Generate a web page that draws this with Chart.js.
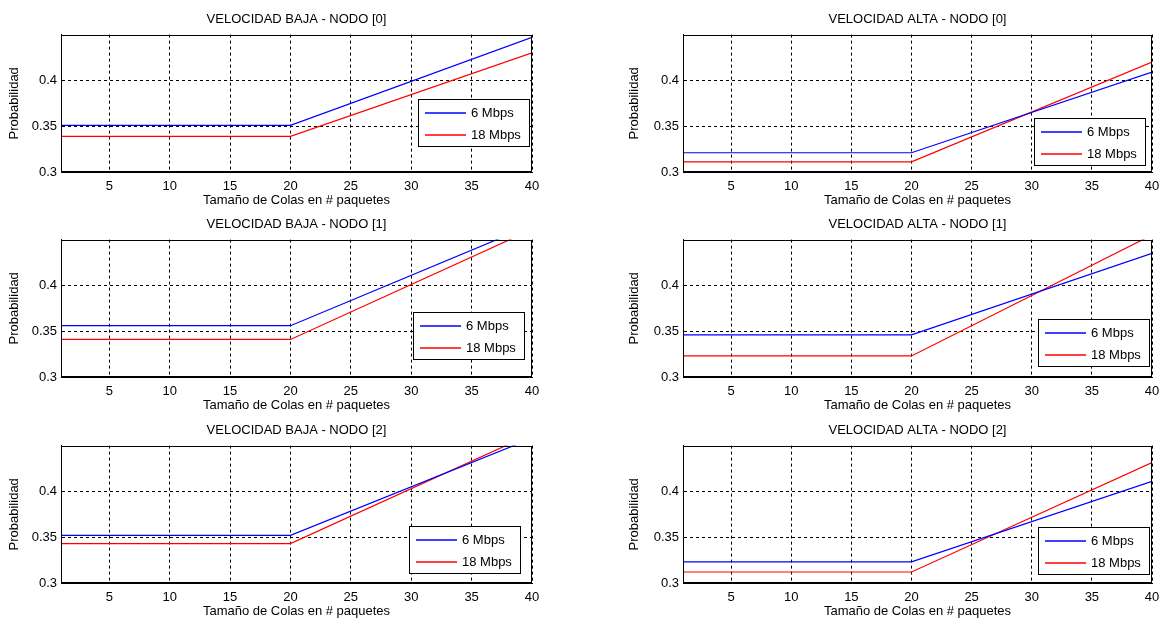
<!DOCTYPE html>
<html>
<head>
<meta charset="utf-8">
<script src="https://cdn.jsdelivr.net/npm/chart.js"></script>
<style>
  html, body { margin: 0; background: #fff; overflow: hidden; }
  canvas { position: absolute; }
</style>
</head>
<body>
<canvas id="baja0" width="593" height="208" style="left:0px;top:0px"></canvas>
<canvas id="alta0" width="595" height="208" style="left:620px;top:0px"></canvas>
<canvas id="baja1" width="593" height="208" style="left:0px;top:205px"></canvas>
<canvas id="alta1" width="595" height="208" style="left:620px;top:205px"></canvas>
<canvas id="baja2" width="593" height="208" style="left:0px;top:411px"></canvas>
<canvas id="alta2" width="595" height="208" style="left:620px;top:411px"></canvas>
<script>
// queue sizes where the curves change slope
const queueSizes = [1, 20, 40];
const xTicks = [5, 10, 15, 20, 25, 30, 35, 40];
const yTicks = [0.3, 0.35, 0.4];
const seriesLabels = ["6 Mbps", "18 Mbps"];
const seriesColors = ["#0000ff", "#ff0000"];

// VELOCIDAD BAJA
const baja0_6 = [0.351, 0.351, 0.447];
const baja0_18 = [0.339, 0.339, 0.430];
const baja1_6 = [0.356, 0.356, 0.466];
const baja1_18 = [0.341, 0.341, 0.461];
const baja2_6 = [0.352, 0.352, 0.458];
const baja2_18 = [0.343, 0.343, 0.463];

// VELOCIDAD ALTA
const alta0_6 = [0.321, 0.321, 0.409];
const alta0_18 = [0.311, 0.311, 0.420];
const alta1_6 = [0.346, 0.346, 0.435];
const alta1_18 = [0.323, 0.323, 0.455];
const alta2_6 = [0.323, 0.323, 0.411];
const alta2_18 = [0.312, 0.312, 0.4315];

Chart.defaults.font.family = "'Liberation Sans', Arial, sans-serif";
Chart.defaults.font.size = 13;
Chart.defaults.color = "#000";

// box around the axes + legend inside the plot
const matlabBox = {
    id: "matlabBox",
    afterDraw: (chart, args, opts) => {
        const ctx = chart.ctx;
        const a = chart.chartArea;
        ctx.save();
        ctx.setLineDash([]);
        ctx.strokeStyle = "#000";
        ctx.lineWidth = 1;
        ctx.strokeRect(Math.round(a.left) + 0.5, Math.round(a.top) + 0.5,
            Math.round(a.width) - 1, Math.round(a.height) - 1);

        const w = 111, h = 47;
        const x = Math.round(a.left + opts.x * a.width);
        const y = Math.round(a.top + opts.y * a.height);
        ctx.fillStyle = "#fff";
        ctx.fillRect(x, y, w, h);
        ctx.strokeRect(x + 0.5, y + 0.5, w, h);

        ctx.font = "13px 'Liberation Sans', Arial, sans-serif";
        ctx.textBaseline = "middle";
        seriesLabels.forEach((label, i) => {
            const ry = y + 14 + i * 22;
            ctx.strokeStyle = seriesColors[i];
            ctx.lineWidth = 1.5;
            ctx.beginPath();
            ctx.moveTo(x + 7, ry);
            ctx.lineTo(x + 48, ry);
            ctx.stroke();
            ctx.fillStyle = "#000";
            ctx.fillText(label, x + 53, ry + 0.5);
        });
        ctx.restore();
    }
};

function renderPanel(id, title, fast, slow, legendPos, yAxisWidth) {

    const ctx = document.getElementById(id).getContext("2d");

    new Chart(ctx, {
        type: "line",
        data: {
            datasets: [{
                label: seriesLabels[0],
                data: queueSizes.map((q, i) => ({ x: q, y: fast[i] })),
                borderColor: seriesColors[0],
                borderWidth: 1.2,
                pointRadius: 0,
                tension: 0
            }, {
                label: seriesLabels[1],
                data: queueSizes.map((q, i) => ({ x: q, y: slow[i] })),
                borderColor: seriesColors[1],
                borderWidth: 1.2,
                pointRadius: 0,
                tension: 0
            }]
        },
        options: {
            responsive: false,
            animation: false,
            devicePixelRatio: 1,
            plugins: {
                legend: { display: false },
                tooltip: { enabled: false },
                title: {
                    display: true,
                    text: title,
                    color: "#000",
                    font: { size: 13, weight: "normal" },
                    padding: { top: 12, bottom: 7 }
                },
                matlabBox: legendPos
            },
            scales: {
                x: {
                    type: "linear",
                    min: 1,
                    max: 40,
                    afterBuildTicks: (s) => { s.ticks = xTicks.map(v => ({ value: v })); },
                    afterFit: (s) => { s.height = 36; },
                    ticks: { color: "#000", padding: 7 },
                    grid: { color: "#000", lineWidth: 1, drawTicks: false },
                    border: { color: "#000", dash: [3, 3] },
                    title: {
                        display: true,
                        text: "Tamaño de Colas en # paquetes",
                        color: "#000",
                        font: { size: 13 },
                        padding: { top: 0, bottom: 0 }
                    }
                },
                y: {
                    min: 0.3,
                    max: 0.45,
                    afterBuildTicks: (s) => { s.ticks = yTicks.map(v => ({ value: v })); },
                    afterFit: (s) => { s.width = yAxisWidth; },
                    ticks: {
                        color: "#000",
                        padding: 4,
                        callback: (v) => String(+v.toFixed(2))
                    },
                    grid: { color: "#000", lineWidth: 1, drawTicks: false },
                    border: { color: "#000", dash: [3, 3] },
                    title: {
                        display: true,
                        text: "Probabilidad",
                        color: "#000",
                        font: { size: 13 },
                        padding: { top: 7, bottom: 0 }
                    }
                },
                // empty right axis, same width as the left one, keeps the title centred on the plot
                spacer: {
                    position: "right",
                    min: 0.3,
                    max: 0.45,
                    afterFit: (s) => { s.width = yAxisWidth; },
                    ticks: { display: false },
                    grid: { display: false },
                    border: { display: false }
                }
            }
        },
        plugins: [matlabBox]
    });
}

renderPanel("baja0", "VELOCIDAD BAJA - NODO [0]", baja0_6, baja0_18, { x: 0.757, y: 0.468 }, 61);
renderPanel("alta0", "VELOCIDAD ALTA - NODO [0]", alta0_6, alta0_18, { x: 0.748, y: 0.61 }, 63);
renderPanel("baja1", "VELOCIDAD BAJA - NODO [1]", baja1_6, baja1_18, { x: 0.748, y: 0.526 }, 61);
renderPanel("alta1", "VELOCIDAD ALTA - NODO [1]", alta1_6, alta1_18, { x: 0.757, y: 0.577 }, 63);
renderPanel("baja2", "VELOCIDAD BAJA - NODO [2]", baja2_6, baja2_18, { x: 0.739, y: 0.585 }, 61);
renderPanel("alta2", "VELOCIDAD ALTA - NODO [2]", alta2_6, alta2_18, { x: 0.757, y: 0.59 }, 63);
</script>
</body>
</html>
